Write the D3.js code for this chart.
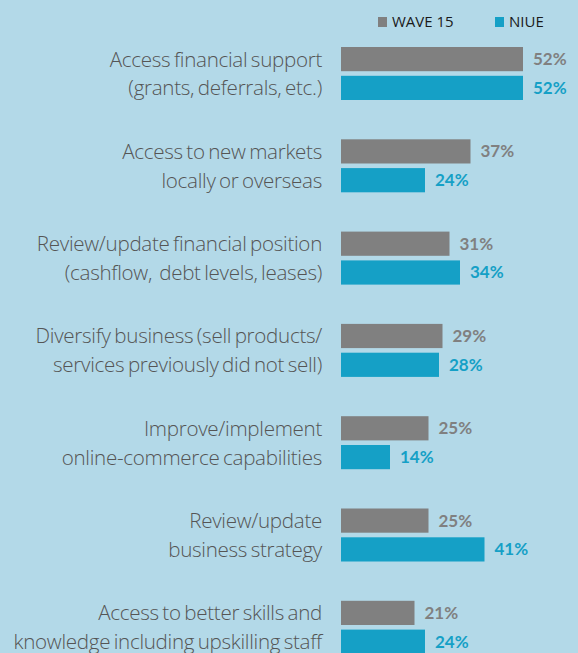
<!DOCTYPE html>
<html>
<head>
<meta charset="utf-8">
<script src="https://cdn.jsdelivr.net/npm/d3@7"></script>
<style>
  html, body { margin: 0; padding: 0; background: #b3d9e8; }
  svg { display: block; }
</style>
</head>
<body>
<div id="chart"></div>
<script>
// chart data
const categories = [
  ["Access financial support", "(grants, deferrals, etc.)"],
  ["Access to new markets", "locally or overseas"],
  ["Review/update financial position", "(cashflow,  debt levels, leases)"],
  ["Diversify business (sell products/", "services previously did not sell)"],
  ["Improve/implement", "online-commerce capabilities"],
  ["Review/update", "business strategy"],
  ["Access to better skills and", "knowledge including upskilling staff"]
];
const seriesNames = ["WAVE 15", "NIUE"];
const wave15 = [52, 37, 31, 29, 25, 25, 21];
const niue = [52, 24, 34, 28, 14, 41, 24];
const colors = ["#808080", "#15a0c6"];

const width = 578, height = 653;
const svg = d3.select("#chart").append("svg")
  .attr("width", width)
  .attr("height", height);

svg.append("rect").attr("width", width).attr("height", height).attr("fill", "#b3d9e8");

const ids = categories.map((c, i) => i);

const x = d3.scaleLinear().domain([0, 52]).range([341, 523]);

const y0 = d3.scaleBand()
  .domain(ids)
  .range([47, 47 + 7 * 92.3]);

const y1 = d3.scaleBand()
  .domain(seriesNames)
  .range([0, 53])
  .paddingInner(0.16);

const rows = ids.map(i => ({ i, values: [wave15[i], niue[i]] }));

const group = svg.selectAll("g.group")
  .data(rows)
  .join("g")
  .attr("class", "group")
  .attr("transform", d => `translate(0,${y0(d.i)})`);

group.selectAll("rect")
  .data(d => d.values.map((v, k) => ({ v, k })))
  .join("rect")
  .attr("x", x(0))
  .attr("y", d => y1(seriesNames[d.k]))
  .attr("width", d => x(d.v) - x(0))
  .attr("height", y1.bandwidth())
  .attr("fill", d => colors[d.k]);

group.selectAll("text.val")
  .data(d => d.values.map((v, k) => ({ v, k })))
  .join("text")
  .attr("class", "val")
  .attr("x", d => x(d.v) + 10)
  .attr("y", d => y1(seriesNames[d.k]) + y1.bandwidth() / 2)
  .attr("dy", "0.35em")
  .attr("fill", d => colors[d.k])
  .style("font-family", "Lato, sans-serif")
  .style("font-weight", 700)
  .style("font-size", "17px")
  .text(d => d.v + "%");

group.selectAll("text.lab")
  .data(d => categories[d.i].map((t, k) => ({ t, k })))
  .join("text")
  .attr("class", "lab")
  .attr("x", 322)
  .attr("y", d => y1(seriesNames[d.k]) + y1.bandwidth() / 2)
  .attr("dy", "0.36em")
  .attr("text-anchor", "end")
  .attr("fill", "#555")
  .style("font-family", "'Open Sans', sans-serif")
  .style("font-weight", 300)
  .style("font-size", "20.6px")
  .style("letter-spacing", "-0.3px")
  .style("word-spacing", "-1.5px")
  .style("white-space", "pre")
  .text(d => d.t);

// legend
const legend = svg.append("g").selectAll("g")
  .data(seriesNames)
  .join("g")
  .attr("transform", (d, i) => `translate(${[378, 495][i]},17)`);

legend.append("rect")
  .attr("width", 9)
  .attr("height", 10)
  .attr("fill", (d, i) => colors[i]);

legend.append("text")
  .attr("x", 14)
  .attr("y", 5)
  .attr("dy", "0.36em")
  .attr("fill", "#1a1a1a")
  .style("font-family", "'Open Sans', sans-serif")
  .style("font-size", "15px")
  .text(d => d);
</script>
</body>
</html>
